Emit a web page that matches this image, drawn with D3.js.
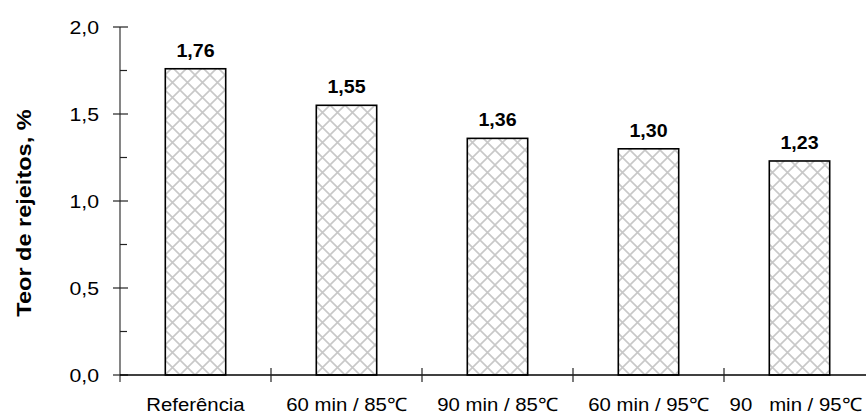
<!DOCTYPE html>
<html>
<head>
<meta charset="utf-8">
<script src="https://cdn.jsdelivr.net/npm/d3@7"></script>
<style>
  html, body { margin: 0; padding: 0; background: #fff; }
  svg { display: block; font-family: "Liberation Sans", Arial, sans-serif; }
</style>
</head>
<body>
<svg id="chart" width="866" height="416"></svg>
<script>
// Residue content per treatment condition
const categories = ["Referência", "60 min / 85℃", "90 min / 85℃", "60 min / 95℃", "90   min / 95℃"];
const values = [1.76, 1.55, 1.36, 1.30, 1.23];
const valueLabels = ["1,76", "1,55", "1,36", "1,30", "1,23"];
const yTicks = [0, 0.5, 1.0, 1.5, 2.0];
const yTickLabels = ["0,0", "0,5", "1,0", "1,5", "2,0"];
const yMinorTicks = [0.25, 0.75, 1.25, 1.75];
const yTitle = "Teor de rejeitos, %";

const svg = d3.select("#chart");

const x = d3.scaleBand()
  .domain(categories)
  .range([120, 875])
  .paddingInner(0.6)
  .paddingOuter(0.3);

const y = d3.scaleLinear().domain([0, 2]).range([375, 27]);

// Cross-hatch fill
const defs = svg.append("defs");
const pat = defs.append("pattern")
  .attr("id", "hatch")
  .attr("patternUnits", "userSpaceOnUse")
  .attr("width", 15).attr("height", 15);
pat.append("rect").attr("width", 15).attr("height", 15).attr("fill", "#fff");
pat.append("path")
  .attr("d", "M0,0L15,15M15,0L0,15M-1,14L1,16M14,-1L16,1")
  .attr("stroke", "#c8c8c8")
  .attr("stroke-width", 1.6)
  .attr("fill", "none");

// Bars
svg.append("g").selectAll("rect")
  .data(values)
  .join("rect")
  .attr("x", (d, i) => x(categories[i]))
  .attr("y", d => y(d))
  .attr("width", x.bandwidth())
  .attr("height", d => y(0) - y(d))
  .attr("fill", "url(#hatch)")
  .attr("stroke", "#000")
  .attr("stroke-width", 1.6);

// Value labels
svg.append("g").selectAll("text")
  .data(values)
  .join("text")
  .attr("transform", (d, i) => `translate(${x(categories[i]) + x.bandwidth() / 2},${y(d) - 12}) scale(1.09,1)`)
  .attr("text-anchor", "middle")
  .attr("font-weight", "bold")
  .attr("font-size", 18)
  .attr("fill", "#000")
  .text((d, i) => valueLabels[i]);

// Y axis
const yAxis = svg.append("g");
yAxis.append("line")
  .attr("x1", 120).attr("x2", 120)
  .attr("y1", y(2)).attr("y2", 382)
  .attr("stroke", "#444").attr("stroke-width", 1.3);
yAxis.selectAll("line.major")
  .data(yTicks)
  .join("line")
  .attr("class", "major")
  .attr("x1", 113).attr("x2", 128)
  .attr("y1", d => y(d)).attr("y2", d => y(d))
  .attr("stroke", "#222").attr("stroke-width", 1.2);
yAxis.selectAll("line.minor")
  .data(yMinorTicks)
  .join("line")
  .attr("class", "minor")
  .attr("x1", 120).attr("x2", 127)
  .attr("y1", d => y(d)).attr("y2", d => y(d))
  .attr("stroke", "#222").attr("stroke-width", 1.2);
yAxis.selectAll("text")
  .data(yTicks)
  .join("text")
  .attr("transform", d => `translate(99,${y(d) + 6.5}) scale(1.15,1)`)
  .attr("text-anchor", "end")
  .attr("font-size", 18.5)
  .attr("fill", "#000")
  .text((d, i) => yTickLabels[i]);

// X axis
const xAxis = svg.append("g");
xAxis.append("line")
  .attr("x1", 120).attr("x2", 866)
  .attr("y1", y(0)).attr("y2", y(0))
  .attr("stroke", "#000").attr("stroke-width", 1.6);
const boundaries = categories.slice(1).map(c => x(c) - x.step() * x.paddingInner() / 2);
xAxis.selectAll("line.tick")
  .data(boundaries)
  .join("line")
  .attr("class", "tick")
  .attr("x1", d => d).attr("x2", d => d)
  .attr("y1", 368).attr("y2", 382)
  .attr("stroke", "#222").attr("stroke-width", 1.2);
xAxis.selectAll("text")
  .data(categories)
  .join("text")
  .attr("transform", (d, i) => `translate(${x(d) + x.bandwidth() / 2 - (i === 4 ? 4 : 0)},411) scale(1.1,1)`)
  .attr("text-anchor", "middle")
  .attr("font-size", 18.5)
  .attr("fill", "#000")
  .style("white-space", "pre")
  .text(d => d);

// Y title
svg.append("text")
  .attr("transform", "translate(31,213) rotate(-90) scale(1.12,1)")
  .attr("text-anchor", "middle")
  .attr("font-weight", "bold")
  .attr("font-size", 21)
  .attr("fill", "#000")
  .text(yTitle);
</script>
</body>
</html>
